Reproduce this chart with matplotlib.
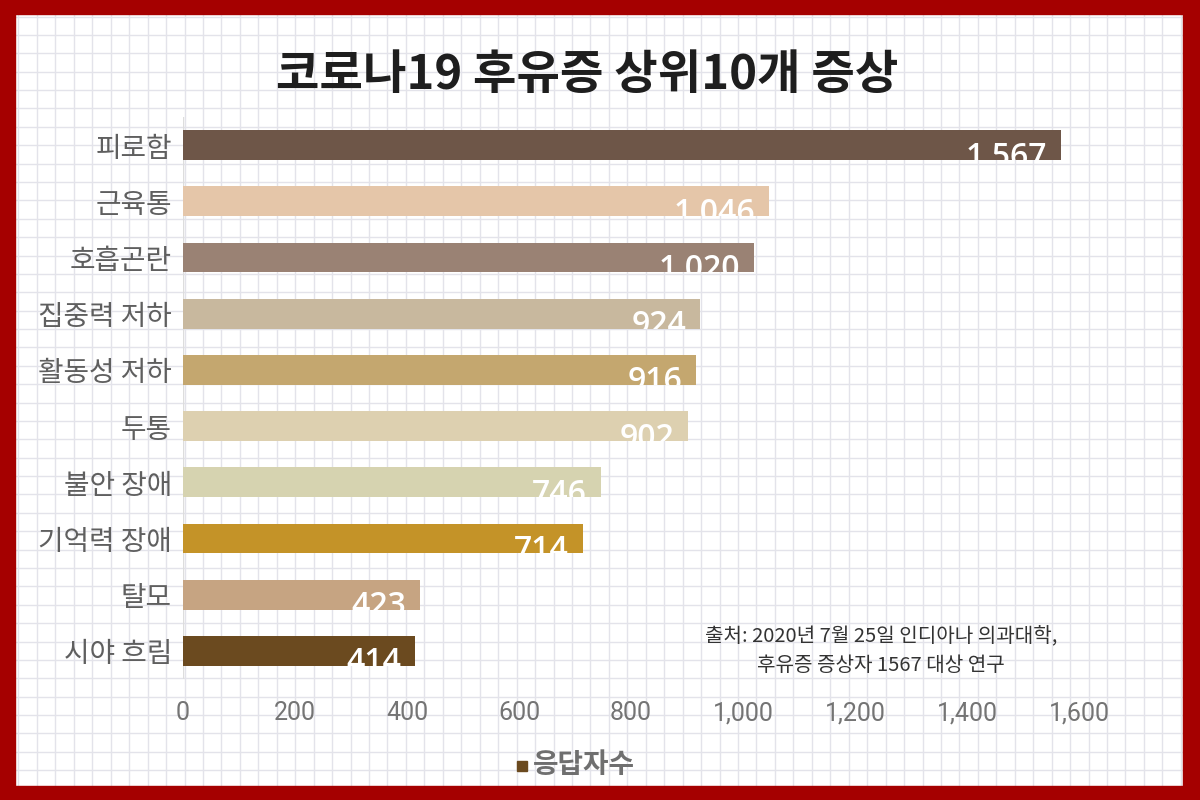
import matplotlib
matplotlib.use("Agg")
import matplotlib.pyplot as plt
from matplotlib.patches import Rectangle
import numpy as np

# === DATA ===
symptoms = ["피로함", "근육통", "호흡곤란", "집중력 저하", "활동성 저하",
            "두통", "불안 장애", "기억력 장애", "탈모", "시야 흐림"]
counts = [1567, 1046, 1020, 924, 916, 902, 746, 714, 423, 414]
bar_colors = ["#6e5648", "#e5c6a9", "#9a8274", "#c8b89e", "#c4a76f",
              "#ddd0b0", "#d6d3b0", "#c49328", "#c6a482", "#6b4a1f"]
x_ticks = [0, 200, 400, 600, 800, 1000, 1200, 1400, 1600]

title = "코로나19 후유증 상위10개 증상"
legend_label = "응답자수"
source_text = "출처: 2020년 7월 25일 인디아나 의과대학,\n후유증 증상자 1567 대상 연구"

KR = ["Noto Sans CJK KR", "DejaVu Sans"]
plt.rcParams['font.family'] = KR

fig = plt.figure(figsize=(12, 8), dpi=100)

# --- graph paper background ---
bg = fig.add_axes([0, 0, 1, 1], zorder=-5)
bg.set_xlim(0, 1200)
bg.set_ylim(800, 0)
bg.axis("off")
for gx in np.arange(0, 1200, 18.45):
    bg.axvline(gx, color="#e3e3ea", lw=1)
for gy in np.arange(-1.8, 800, 18.38):
    bg.axhline(gy, color="#e3e3ea", lw=1)

# --- red frame ---
red = "#a50000"
fig.patches.extend([
    Rectangle((0, 0), 1, 14 / 800, transform=fig.transFigure, color=red, zorder=10),
    Rectangle((0, 1 - 14 / 800), 1, 14 / 800, transform=fig.transFigure, color=red, zorder=10),
    Rectangle((0, 0), 15 / 1200, 1, transform=fig.transFigure, color=red, zorder=10),
    Rectangle((1 - 17 / 1200, 0), 17 / 1200, 1, transform=fig.transFigure, color=red, zorder=10),
])

# --- bar chart ---
ax = fig.add_axes([183 / 1200, 1 - 679 / 800, 896 / 1200, 562 / 800])
ax.set_facecolor("none")
y = np.arange(len(symptoms))
bars = ax.barh(y, counts, height=0.53, color=bar_colors, zorder=2)
ax.set_xlim(0, 1600)
ax.set_ylim(len(symptoms) - 0.5, -0.5)
ax.set_yticks(y)
ax.set_yticklabels(symptoms, fontsize=20, color="#5f5f5f", fontweight="medium")
ax.set_xticks(x_ticks)
ax.set_xticklabels([f"{t:,}" for t in x_ticks], fontsize=18, color="#747474",
                   family=["Roboto", "DejaVu Sans"])
ax.tick_params(axis="both", length=0)
ax.tick_params(axis="y", pad=8)
ax.tick_params(axis="x", pad=16)
for s in ax.spines.values():
    s.set_visible(False)
ax.axvline(0, color="#dddddd", lw=1, zorder=1)

# value labels, clipped by the bar
for b, v in zip(bars, counts):
    t = ax.annotate(f"{v:,}", xy=(v, b.get_y() + b.get_height()), xytext=(-10, -4),
                    textcoords="offset points", ha="right", va="baseline",
                    fontsize=23, fontweight="semibold", color="white",
                    family=["Open Sans", "DejaVu Sans"], zorder=3)
    t.set_clip_path(b)

# --- title ---
fig.text(587 / 1200, 1 - 75 / 800, title, ha="center", va="center",
         fontsize=34, fontweight="heavy", color="#1e1e1e")

# --- source ---
fig.text(881 / 1200, 1 - 651 / 800, source_text, ha="center", va="center",
         fontsize=14.5, color="#333333", linespacing=1.55)

# --- legend ---
fig.patches.append(Rectangle((517 / 1200, 1 - 771 / 800), 10 / 1200, 10 / 800,
                             transform=fig.transFigure, color="#6b4a1f"))
fig.text(533 / 1200, 1 - 765 / 800, legend_label, ha="left", va="center",
         fontsize=20, fontweight="heavy", color="#6f6f6f")

fig.savefig("out.png", dpi=100)
